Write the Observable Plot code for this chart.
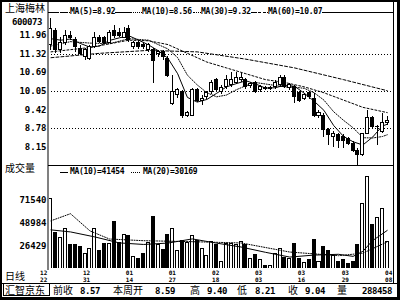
<!DOCTYPE html>
<html><head><meta charset="utf-8">
<script src="https://cdn.jsdelivr.net/npm/d3@7"></script>
<script src="https://cdn.jsdelivr.net/npm/@observablehq/plot@0.6"></script>
<style>
html,body{margin:0;padding:0;background:#fff;}
#chart{position:relative;width:400px;height:300px;overflow:hidden;background:#fff;color:#000;
 font-family:"DejaVu Sans Mono",monospace;font-weight:bold;font-size:9px;}
#chart .a{position:absolute;white-space:nowrap;line-height:1;}
#chart .cjk{font-family:"Noto Sans CJK SC",sans-serif;font-weight:normal;}
#chart svg{position:absolute;left:0;overflow:visible;}
</style></head><body><div id="chart"></div>
<script>
// ---------- data ----------
const stockName = "上海梅林";
const stockCode = "600073";
const opens = [11.65,12.13,11.45,11.69,11.96,11.79,11.51,11.21,11.17,11.55,
 11.86,11.86,11.72,12.13,12.06,11.89,12.20,11.55,11.69,11.65,
 11.45,11.45,11.31,11.38,11.17,9.63,9.91,10.01,9.22,9.22,
 10.08,9.73,9.84,10.01,10.42,10.01,10.18,10.25,10.35,10.42,
 10.42,10.22,10.32,10.08,10.17,10.13,10.18,10.25,10.52,10.15,
 10.18,9.98,9.80,9.98,9.80,9.22,9.22,8.71,8.47,8.54,
 8.50,8.43,8.26,8.02,7.86,8.59,9.12,8.81,8.64,8.95];
const highs = [12.54,12.20,11.89,12.13,12.10,11.89,11.62,11.51,11.62,12.06,
 11.96,11.93,12.13,12.30,12.20,12.23,12.30,11.75,11.75,11.72,
 11.69,11.52,11.45,11.45,11.24,10.59,10.15,10.08,9.36,10.15,
 10.15,9.91,10.05,10.42,10.49,10.25,10.59,10.69,10.69,10.66,
 10.49,10.35,10.38,10.25,10.22,10.22,10.42,10.59,10.59,10.32,
 10.25,10.05,9.98,10.05,9.97,9.39,9.29,8.78,8.67,8.60,
 8.57,8.47,8.33,8.09,8.60,9.40,9.19,8.88,9.29,9.19];
const lows = [11.45,11.34,11.34,11.62,11.79,11.38,11.28,11.10,11.10,11.51,
 11.69,11.65,11.69,11.86,11.89,11.86,11.72,11.48,11.48,11.48,
 11.38,10.32,11.21,11.10,10.52,9.56,9.80,9.12,9.15,9.18,
 9.66,9.56,9.77,9.94,10.01,9.94,10.11,10.18,10.28,10.35,
 10.11,10.15,9.98,10.01,10.08,10.08,10.11,10.18,10.15,10.08,
 9.63,9.66,9.73,9.77,9.15,9.12,8.47,8.19,8.12,8.09,
 8.09,8.19,7.96,7.51,7.82,8.57,8.78,8.21,8.60,8.88];
const closes = [12.17,11.45,11.72,11.96,11.89,11.55,11.34,11.45,11.55,11.89,
 11.75,11.72,12.03,11.96,11.96,12.03,11.79,11.69,11.55,11.55,
 11.62,11.10,11.38,11.21,10.59,10.01,10.08,9.22,9.29,10.08,
 9.73,9.77,9.98,10.35,10.08,10.15,10.42,10.42,10.49,10.52,
 10.18,10.29,10.01,10.18,10.13,10.17,10.35,10.49,10.18,10.25,
 9.84,9.73,9.91,9.84,9.22,9.32,8.71,8.54,8.60,8.36,
 8.36,8.26,8.02,7.86,8.57,9.12,8.81,8.84,8.98,9.04];
const volumes = [73000,38700,34200,42400,26600,26600,24900,18400,23300,42400,
 21000,28300,28300,49600,28800,37100,35500,15700,13400,18400,
 28800,54500,26600,22300,37400,43000,21600,31500,28800,36400,
 31500,23300,16700,29800,26600,10100,28300,28300,26600,29800,
 26600,12800,17700,11800,6800,6800,18400,23300,14000,13400,
 28300,13400,9100,12500,32200,10100,25600,21000,16700,10100,
 11800,8500,10100,26600,68000,94000,47300,53500,63100,29800];

const ma5Idx = [0,2,4,6,8,10,12,14,16,18,20,22,24,26,28,30,32,34,36,38,40,42,44,46,48,50,52,54,56,58,60,62,64,66,68,69];
const ma5Val = [11.85,11.80,11.84,11.69,11.56,11.60,11.79,11.88,11.95,11.80,11.64,11.44,11.18,10.65,9.84,9.68,9.77,9.98,10.20,10.31,10.41,10.30,10.16,10.17,10.26,10.22,9.98,9.71,9.40,8.88,8.51,8.32,8.21,8.48,8.86,8.92];
const ma10Idx = [0,4,8,12,16,20,24,26,28,30,32,34,36,38,40,42,44,46,48,50,52,54,56,58,60,62,64,66,68,69];
const ma10Val = [11.60,11.75,11.70,11.68,11.85,11.80,11.50,11.20,10.60,10.27,10.00,9.86,9.92,10.10,10.24,10.35,10.30,10.25,10.20,10.19,10.15,10.00,9.75,9.35,9.06,8.80,8.46,8.45,8.50,8.56];
const ma30Idx = [0,8,16,20,24,28,32,36,40,44,48,52,56,60,64,69];
const ma30Val = [11.40,11.55,11.80,11.78,11.65,11.35,11.05,10.85,10.65,10.45,10.35,10.20,10.00,9.75,9.50,9.32];
const ma60Idx = [0,10,20,30,40,50,60,69];
const ma60Val = [11.20,11.35,11.45,11.40,11.15,10.85,10.45,10.07];

const vma10Idx = [0,4,9,14,19,24,29,34,39,44,49,54,59,62,64,66,69];
const vma10Val = [42000,40000,35050,29160,27610,28970,33090,28920,25100,19880,15160,17140,17900,15860,20850,31410,41454];
const vma20Idx = [0,4,8,12,19,29,39,49,59,64,69];
const vma20Val = [51000,58000,41000,33000,31330,30350,29100,20130,16530,19000,30169];

const priceTicks = [11.96,11.32,10.69,10.05,9.42,8.78,8.15];
const priceGrid = [11.32,10.05,8.78];
const volTicks = [26429,48984,71540];

const xMonths = ["12","12","01","01","02","03","03","03","04"];
const xDays   = ["22","31","14","27","18","03","16","29","08"];
const xLabelAt = [-1.5,7.3,16.1,24.9,33.8,42.6,51.4,60.4,69.3];

const priceLegend = ["MA(5)=8.92","MA(10)=8.56","MA(30)=9.32","MA(60)=10.07"];
const volLegend = ["MA(10)=41454","MA(20)=30169"];
const summaryLabels = ["前收","本周开","高","低","收","量"];
const summaryValues = ["8.57","8.59","9.40","8.21","9.04","288458"];
const brand = "汇智京东";

// ---------- build ----------
const root = document.getElementById("chart");
const bars = opens.map((o,i)=>({i,o,h:highs[i],l:lows[i],c:closes[i],v:volumes[i],up:closes[i]>=opens[i]}));
const upBars = bars.filter(d=>d.up), dnBars = bars.filter(d=>!d.up);
const pts = (idx,val)=>idx.map((x,k)=>({x,y:val[k]}));
const xDom = [-0.51, 70.29];
const half = 0.31;
const font = {fontFamily:"DejaVu Sans Mono, monospace", fontSize:"9px", fontWeight:"bold", background:"transparent", overflow:"visible"};

const pricePlot = Plot.plot({
  width:400, height:166, marginLeft:48, marginRight:7, marginTop:12, marginBottom:1,
  style:font,
  x:{domain:xDom, axis:null},
  y:{domain:[7.508,12.748], axis:null},
  marks:[
    Plot.ruleY(priceGrid,{stroke:"#000",strokeDasharray:"1 2",shapeRendering:"crispEdges"}),
    Plot.axisY(priceTicks,{anchor:"left",tickSize:0,tickPadding:2,tickFormat:d=>d.toFixed(2),fontWeight:"bold",letterSpacing:"-0.4px"}),
    Plot.line(pts(ma60Idx,ma60Val),{x:"x",y:"y",stroke:"#000",strokeWidth:1,strokeDasharray:"3 2",clip:true}),
    Plot.line(pts(ma30Idx,ma30Val),{x:"x",y:"y",stroke:"#000",strokeWidth:1,strokeDasharray:"2 2",clip:true}),
    Plot.line(pts(ma10Idx,ma10Val),{x:"x",y:"y",stroke:"#000",strokeWidth:1,strokeDasharray:"1 1.5",clip:true}),
    Plot.line(pts(ma5Idx,ma5Val),{x:"x",y:"y",stroke:"#000",strokeWidth:1,clip:true}),
    Plot.ruleX(bars,{x:"i",y1:"l",y2:"h",stroke:"#000",strokeWidth:1,shapeRendering:"crispEdges",clip:true}),
    Plot.rect(upBars,{x1:d=>d.i-half,x2:d=>d.i+half,y1:"o",y2:"c",fill:"#fff",stroke:"#000",shapeRendering:"crispEdges"}),
    Plot.rect(dnBars,{x1:d=>d.i-half,x2:d=>d.i+half,y1:"o",y2:"c",fill:"#000",stroke:"#000",shapeRendering:"crispEdges"})
  ]
});
pricePlot.style.top = "0px";
root.appendChild(pricePlot);

const vStep = volTicks[1]-volTicks[0];
const vBase = volTicks[0]-vStep;
const xLabels = xMonths.map((m,k)=>({at:xLabelAt[k], m, d:xDays[k]}));
const volPlot = Plot.plot({
  width:400, height:118, marginLeft:48, marginRight:7, marginTop:0, marginBottom:15,
  style:font,
  x:{domain:xDom, axis:null},
  y:{domain:[vBase, vBase+vStep*4.51], axis:null},
  marks:[
    Plot.axisY(volTicks,{anchor:"left",tickSize:0,tickPadding:2,tickFormat:d=>String(d),fontWeight:"bold",letterSpacing:"-0.4px"}),
    Plot.rect(upBars,{x1:d=>d.i-half,x2:d=>d.i+half,y1:()=>vBase,y2:"v",fill:"#fff",stroke:"#000",shapeRendering:"crispEdges",clip:true}),
    Plot.rect(dnBars,{x1:d=>d.i-half,x2:d=>d.i+half,y1:()=>vBase,y2:"v",fill:"#000",stroke:"#000",shapeRendering:"crispEdges",clip:true}),
    Plot.line(pts(vma20Idx,vma20Val),{x:"x",y:"y",stroke:"#000",strokeWidth:1,strokeDasharray:"1 1.5",clip:true}),
    Plot.line(pts(vma10Idx,vma10Val),{x:"x",y:"y",stroke:"#000",strokeWidth:1,clip:true}),
    Plot.text(xLabels,{x:"at",text:"m",frameAnchor:"bottom",lineAnchor:"middle",dy:4.5,fontSize:6,fontWeight:"bold"}),
    Plot.text(xLabels,{x:"at",text:"d",frameAnchor:"bottom",lineAnchor:"middle",dy:11.5,fontSize:6,fontWeight:"bold"})
  ]
});
volPlot.style.top = "165px";
root.appendChild(volPlot);

// ---------- frame & text overlays ----------
function box(l,t,w,h,css){const d=document.createElement("div");d.className="a";
  Object.assign(d.style,{left:l+"px",top:t+"px",width:w+"px",height:h+"px"},css||{});root.appendChild(d);return d;}
function txt(s,l,t,cls,css){const d=document.createElement("div");d.className="a "+(cls||"");d.textContent=s;
  Object.assign(d.style,{left:l+"px",top:t+"px"},css||{});root.appendChild(d);return d;}

box(47,0,2,270,{background:"#808080"});
box(48,12,345,1,{background:"#000"});
box(48,165,345,1,{background:"#000"});
box(393,0,1,283,{background:"#000"});
box(0,283,400,1,{background:"#000"});
box(3,283,47,13,{border:"1px solid #000",boxSizing:"border-box"});
box(0,0,400,300,{border:"2px solid #000",borderRightWidth:"3px",borderBottomWidth:"3px",boxSizing:"border-box"});

txt(stockName,5,3,"cjk",{fontSize:"10px"});
txt(stockCode,12,18,"",{fontSize:"9px",letterSpacing:"-0.4px"});
txt("成交量",5,163,"cjk",{fontSize:"10px"});
txt("日线",5,271,"cjk",{fontSize:"10px"});

// legends: line sample + text, each placed where the reference has it
const legendText = {fontSize:"8px",letterSpacing:"-0.3px"};
function legend(style, segL, segW, textL, s, y){
  box(segL-1, y-4, segW+2, 9, {background:"#fff"});
  box(segL, y, segW, 0, {borderTop:"1px "+style+" #000"});
  txt(s, textL, y-4, "", Object.assign({background:"#fff"}, legendText));
}
const segStyles = ["solid","dotted","dotted","dashed"];
const segL = [60,133,193,258], segW=[8,7,6,8], textL=[70,142,201,268];
priceLegend.forEach((s,k)=>legend(segStyles[k],segL[k],segW[k],textL[k],s,12));
const vSegL=[60,131], vSegW=[8,9], vTextL=[70,143];
volLegend.forEach((s,k)=>legend(k?"dotted":"solid",vSegL[k],vSegW[k],vTextL[k],s,172));

// bottom summary bar
txt(brand,5,285,"cjk",{fontSize:"10px"});
const labX = [53,113,190,237,288,337];
const valEnd = [100,175,227,275,325,392];
summaryLabels.forEach((s,k)=>{
  txt(s,labX[k],285,"cjk",{fontSize:"10px"});
  const d = txt(summaryValues[k],0,287,"",{fontSize:"9px",letterSpacing:"-0.4px"});
  d.style.left=""; d.style.right=(400-valEnd[k])+"px";
});
</script></body></html>
